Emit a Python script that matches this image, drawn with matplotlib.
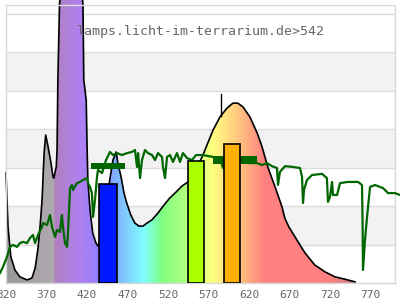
import numpy as np
import matplotlib
matplotlib.use("Agg")
import matplotlib.pyplot as plt
from matplotlib.colors import LinearSegmentedColormap
from matplotlib.patches import Polygon

# lamp spectrum (nm, relative intensity; 10 units per grid line)
spec_nm = [320, 322.5, 326, 331, 337, 346, 352, 356, 359.5, 362, 364.5, 367, 369, 372,
           375.5, 378, 379, 382, 383, 384, 386, 390, 397, 405, 412, 415, 416, 419, 420,
           421, 423.7, 427, 431, 433.5, 436, 442, 448, 452, 456, 458, 462, 465.6, 469,
           474, 479, 484, 489, 494, 500, 507.5, 515, 522, 530, 537, 544.6, 554.5, 563,
           575.5, 584, 592.7, 600, 606, 612.5, 621, 630, 636, 643, 652, 660.6, 664,
           669, 676.6, 689, 701, 713.6, 726, 738, 750.7]
spec_val = [28.6, 14.6, 6.8, 3.4, 1.6, 0.8, 1.3, 3.9, 9.1, 14.6, 21.6, 33.8, 38.5, 35.4,
            31.2, 27.6, 27.3, 30.2, 34.6, 52.8, 72.3, 85, 95, 90, 80, 72.3, 52.8, 47.6,
            35.9, 26.8, 19.0, 13.0, 10.4, 9.6, 11.2, 17.7, 26.8, 32.0, 34.1, 31.2, 27.6,
            23.4, 20.8, 17.7, 15.6, 14.8, 14.8, 15.6, 16.4, 18.2, 20.3, 22.1, 23.7, 25.2,
            26.3, 29.4, 33.3, 39.8, 43.2, 45.5, 46.8, 46.8, 45.8, 43.2, 39.0, 35.4, 30.2,
            25.0, 19.8, 16.9, 14.6, 12.0, 7.8, 4.7, 2.9, 1.6, 1.0, 0.3]

# filter transmission (dark green line)
trans_nm = [312.6, 316.3, 321.2, 325, 328.6, 333.6, 337.3, 341, 346, 349.6, 353.3, 355.8,
            359.5, 364.4, 365.7, 370.6, 374.3, 376.8, 380.5, 383, 386.6, 389, 390.3,
            392.8, 395.3, 396.5, 399, 401.4, 402.7, 407.6, 411.3, 415, 420, 421.2, 423.7,
            426, 427.4, 429.8, 432.3, 433.5, 438.5, 443.4, 448.3, 452, 457, 463, 469.3,
            475.5, 479.2, 481.7, 483, 485.4, 487.8, 491.5, 495.2, 500.2, 503.9, 507.6,
            512.5, 513.7, 516.2, 518.7, 522.4, 526, 531, 534.7, 538.4, 543.4, 549.5,
            554.5, 563, 575.4, 584, 587.8, 590.3, 598.9, 611.2, 621, 629.7, 636, 642,
            648.2, 654.4, 655.6, 658, 664.3, 674.2, 682.8, 685.3, 686.5, 687.7, 691.4,
            697.6, 710, 716, 717.3, 719.8, 722.3, 723.5, 728.5, 732.2, 742, 754.4, 759.3,
            760, 760.5, 763, 765.5, 769.2, 775.3, 785.2, 791.4, 800, 806.2]
trans_val = [2.6, 4.2, 6.8, 9.4, 9.9, 9.4, 10.4, 10.7, 10.4, 11.7, 12.5, 10.4, 12.5, 14.6,
             15.6, 15.1, 17.7, 14.6, 12.0, 13.8, 13.3, 17.7, 14.6, 10.4, 9.4, 13.0, 24.7,
             25.5, 24.2, 26.0, 26.3, 26.8, 27.3, 26.0, 25.0, 23.4, 17.2, 21.6, 27.6, 29.4,
             28.6, 32.0, 34.1, 33.3, 33.8, 33.3, 33.8, 34.1, 34.6, 30.2, 33.8, 27.3, 32.0,
             34.6, 33.8, 33.3, 32.0, 33.8, 32.8, 30.2, 27.3, 32.8, 33.3, 31.5, 33.8, 31.5,
             33.8, 32.5, 32.0, 33.3, 33.3, 32.8, 32.5, 29.9, 32.0, 31.7, 31.5, 31.2, 31.2,
             30.7, 31.2, 30.4, 29.9, 25.5, 28.9, 30.4, 30.2, 29.9, 27.6, 20.8, 24.2, 26.8,
             28.1, 28.4, 27.3, 21.1, 22.4, 26.3, 22.9, 22.9, 26.0, 26.3, 26.3, 25.5, 15.6,
             3.4, 11.2, 17.2, 25.0, 25.5, 24.7, 23.4, 23.4, 22.9]

# band bars
bar_left = [434.8, 544.6, 589.4]
bar_right = [457.0, 564.3, 609.0]
bar_top = [25.8, 31.7, 36.2]
bar_colors = ["#0018ff", "#aaff00", "#ffb000"]

# mean transmission marks
mark_left = [425, 575]
mark_right = [467, 630]
mark_low = [29.6, 31.0]
mark_high = [31.1, 33.0]

peak_line_nm = 585
peak_line_y = [43.5, 49.2]

ticks = list(range(320, 800, 50))

# spectral colour stops (nm, colour)
color_stops = [(320, "#999999"), (378, "#b0aab0"), (380, "#b080c0"), (410, "#b080f0"),
               (435, "#9080ff"), (455, "#80b0ff"), (490, "#80ffff"), (512, "#80ff80"),
               (550, "#c0ff80"), (575, "#ffff80"), (610, "#ffc080"), (640, "#ff8080"),
               (720, "#ff8080"), (760, "#c08080"), (800, "#c08080")]

xmin, xmax = 320, 800
ymax = 73.64
frame_top = 72.3

fig = plt.figure(figsize=(4, 3), dpi=100)
ax = fig.add_axes([6 / 400, 17 / 300, 389 / 400, 283 / 300])

# background bands and grid
for b in [10, 30, 50]:
    ax.axhspan(b, b + 10, color="#f2f2f2", lw=0, zorder=0)
for g in range(10, 80, 10):
    ax.axhline(g, color="#dcdcdc", lw=1, zorder=0.5)

# gradient-filled spectrum
cmap = LinearSegmentedColormap.from_list(
    "spec", [((n - xmin) / (xmax - xmin), c) for n, c in color_stops])
grad = np.linspace(0, 1, 800).reshape(1, -1)
im = ax.imshow(grad, extent=[xmin, xmax, 0, 100], aspect="auto", cmap=cmap,
               zorder=2, interpolation="bilinear")
verts = [(spec_nm[0], 0)] + list(zip(spec_nm, spec_val)) + [(spec_nm[-1], 0)]
poly = Polygon(verts, closed=True, facecolor="none", edgecolor="none")
ax.add_patch(poly)
im.set_clip_path(poly)
ax.plot(spec_nm, spec_val, color="black", lw=1.2, zorder=2.5, clip_on=False)
ax.plot([peak_line_nm, peak_line_nm], peak_line_y, color="black", lw=1, zorder=2.5)

# transmission
ax.plot(trans_nm, trans_val, color="#006600", lw=1.6, zorder=3, clip_on=False)
for l, r, lo, hi in zip(mark_left, mark_right, mark_low, mark_high):
    ax.bar(l, hi - lo, width=r - l, bottom=lo, align="edge", color="#006600",
           lw=0, zorder=3)

for l, r, t, c in zip(bar_left, bar_right, bar_top, bar_colors):
    ax.bar(l, t, width=r - l, align="edge", color=c, edgecolor="black", lw=1.2,
           zorder=4)

# frame
ax.axhline(frame_top, color="#dcdcdc", lw=1, zorder=5)
for s in ["top"]:
    ax.spines[s].set_visible(False)
for s in ["left", "right", "bottom"]:
    ax.spines[s].set_color("#d8d8d8")
    ax.spines[s].set_linewidth(1)
ax.spines["left"].set_bounds(0, frame_top)
ax.spines["right"].set_bounds(0, frame_top)

ax.set_xlim(xmin, xmax)
ax.set_ylim(0, ymax)
ax.set_yticks([])
ax.set_xticks(ticks)
ax.set_xticklabels([str(t) for t in ticks], family="DejaVu Sans Mono", fontsize=8,
                   color="#666666")
ax.tick_params(axis="x", length=0, pad=5)

ax.text(0.5, 0.89, "lamps.licht-im-terrarium.de>542", transform=ax.transAxes,
        ha="center", va="center", family="DejaVu Sans Mono", fontsize=9.5,
        color="#666666", zorder=6)

fig.savefig("out.png", dpi=100)
